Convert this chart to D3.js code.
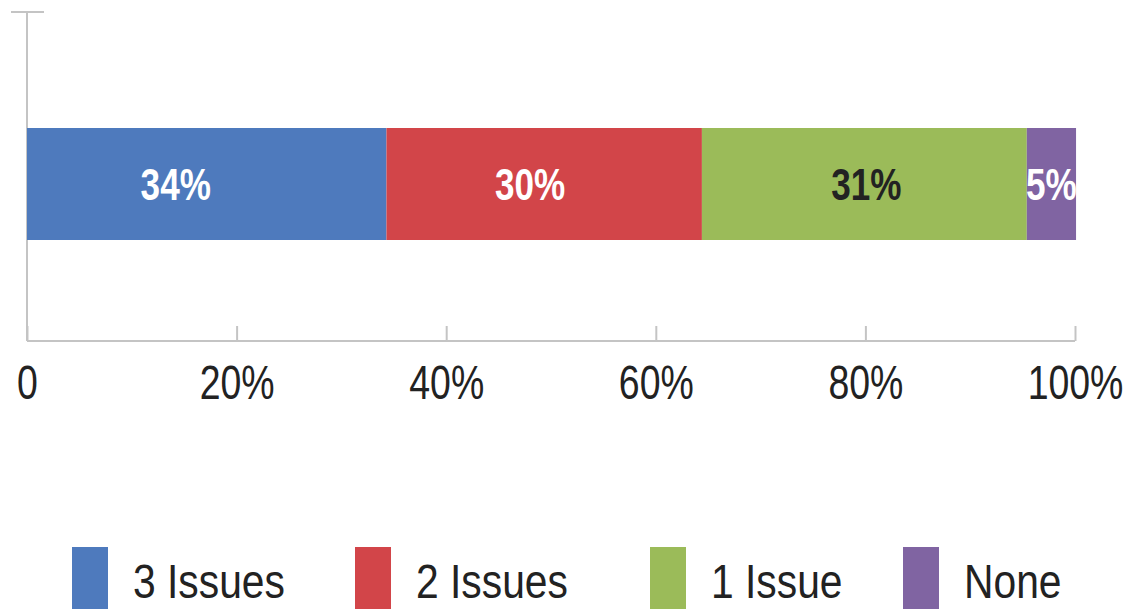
<!DOCTYPE html>
<html>
<head>
<meta charset="utf-8">
<script src="https://cdn.jsdelivr.net/npm/d3@7"></script>
<style>
  body { margin: 0; background: #fff; }
  svg text { font-family: "Liberation Sans", Arial, sans-serif; }
</style>
</head>
<body>
<svg width="1128" height="609"></svg>
<script>
// data
var categories = ["3 Issues", "2 Issues", "1 Issue", "None"];
var values = [34.3, 30.1, 31.0, 4.7];
var valueLabels = ["34%", "30%", "31%", "5%"];
var colors = ["#4e7abd", "#d24549", "#9bbb59", "#8064a2"];
var labelColors = ["#ffffff", "#ffffff", "#222222", "#ffffff"];
var tickValues = [0, 20, 40, 60, 80, 100];
var tickLabels = ["0", "20%", "40%", "60%", "80%", "100%"];

var svg = d3.select("svg");

var x = d3.scaleLinear().domain([0, 100]).range([27, 1075]);
var barTop = 128, barH = 112;

// stack the segments
var segs = [];
var acc = 0;
values.forEach(function(v, i) {
    segs.push({start: acc, end: acc + v, i: i});
    acc += v;
});

// axis lines
var axisColor = "#c4c4c4";
svg.append("line")
    .attr("x1", x(0)).attr("x2", x(0))
    .attr("y1", 12).attr("y2", 341)
    .attr("stroke", axisColor).attr("stroke-width", 2);
svg.append("line")
    .attr("x1", 11).attr("x2", 44)
    .attr("y1", 12).attr("y2", 12)
    .attr("stroke", axisColor).attr("stroke-width", 2);

var xAxis = d3.axisBottom(x)
    .tickValues(tickValues)
    .tickSize(-15)
    .tickFormat(function(d, i) { return tickLabels[i]; });

var gx = svg.append("g")
    .attr("transform", "translate(0,341)")
    .call(xAxis);
gx.select(".domain").attr("stroke", axisColor).attr("stroke-width", 2)
    .attr("d", "M" + x(0) + ",0H" + x(100));
gx.selectAll(".tick line").attr("stroke", axisColor).attr("stroke-width", 2);
gx.selectAll(".tick text")
    .attr("y", 58).attr("dy", 0)
    .attr("transform", "scale(0.78,1)")
    .attr("fill", "#222")
    .style("font-size", "48px");

// bars
svg.selectAll(".seg")
    .data(segs)
  .enter().append("rect")
    .attr("class", "seg")
    .attr("x", function(d) { return x(d.start); })
    .attr("width", function(d) { return x(d.end) - x(d.start); })
    .attr("y", barTop)
    .attr("height", barH)
    .attr("fill", function(d) { return colors[d.i]; });

// value labels
var labelOffset = [-31, -14, 2, 0];
svg.selectAll(".val")
    .data(segs)
  .enter().append("g")
    .attr("class", "val")
    .attr("transform", function(d) {
        return "translate(" + ((x(d.start) + x(d.end)) / 2 + labelOffset[d.i]) + "," + (barTop + barH / 2 + 16) + ") scale(0.78,1)";
    })
  .append("text")
    .attr("text-anchor", "middle")
    .attr("fill", function(d) { return labelColors[d.i]; })
    .style("font-size", "45px")
    .style("font-weight", "bold")
    .text(function(d) { return valueLabels[d.i]; });

// legend
var legendX = [72, 355, 650, 903];
var leg = svg.selectAll(".leg")
    .data(categories)
  .enter().append("g")
    .attr("class", "leg")
    .attr("transform", function(d, i) { return "translate(" + legendX[i] + ",547)"; });
leg.append("rect")
    .attr("width", 36).attr("height", 70)
    .attr("fill", function(d, i) { return colors[i]; });
leg.append("g")
    .attr("transform", "translate(61,51) scale(0.85,1)")
  .append("text")
    .attr("fill", "#222")
    .style("font-size", "48px")
    .text(function(d) { return d; });
</script>
</body>
</html>
